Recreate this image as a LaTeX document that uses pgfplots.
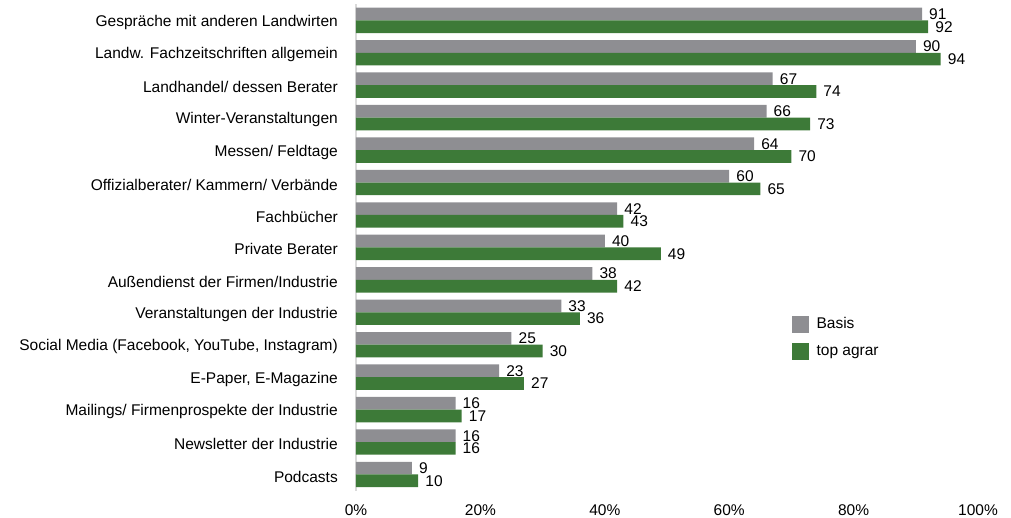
\documentclass[border=0pt]{standalone}
\usepackage{pgfplots}
\pgfplotsset{compat=1.18}
\usepackage{fontspec}
\setmainfont{Liberation Sans}
\definecolor{basis}{RGB}{142,142,146}
\definecolor{topagrar}{RGB}{61,122,56}
\definecolor{axgray}{RGB}{218,218,218}
\newcommand{\cfont}{\fontsize{15.5}{18}\selectfont}
\begin{document}
\cfont
\begin{tikzpicture}
\begin{axis}[
  scale only axis, width=622pt, height=486.6pt,
  xbar, bar width=12.7pt,
  xmin=0, xmax=100, ymin=-0.5, ymax=14.5,
  axis y line*=left, axis x line*=bottom,
  x axis line style={draw=none},
  y axis line style={draw=axgray, line width=1.5pt, -},
  major tick length=0pt,
  tick style={draw=none},
  /pgf/number format/assume math mode=true,
  xtick={0,20,40,60,80,100},
  xticklabels={0\%,20\%,40\%,60\%,80\%,100\%},
  xticklabel style={font=\cfont, inner sep=0pt, anchor=north, yshift=-14pt},
  ytick={0,...,14},
  yticklabels={Podcasts,Newsletter der Industrie,Mailings/ Firmenprospekte der Industrie,{E-Paper, E-Magazine},{Social Media (Facebook, YouTube, Instagram)},Veranstaltungen der Industrie,Außendienst der Firmen/Industrie,Private Berater,Fachbücher,Offizialberater/ Kammern/ Verbände,Messen/ Feldtage,Winter-Veranstaltungen,Landhandel/ dessen Berater,Landw. Fachzeitschriften allgemein,Gespräche mit anderen Landwirten},
  yticklabel style={font=\cfont, inner sep=0pt, anchor=east, xshift=-18pt, yshift=-2pt},
  nodes near coords={\pgfmathprintnumber[assume math mode=true]{\pgfplotspointmeta}}, point meta=x,
  every node near coord/.append style={font=\cfont, inner sep=0pt, anchor=west, xshift=7pt, black},
  legend image code/.code={\path[#1] (0pt,-8.5pt) rectangle (17pt,8.5pt);},
  legend style={draw=none, fill=none, at={(axis description cs:0.70,0.36)}, anchor=north west,
    row sep=10pt, inner sep=0pt, font=\cfont, nodes={inner sep=0pt}},
  legend cell align=left,
]
\addplot[fill=basis, draw=none, bar shift=6.35pt] coordinates {
(9,0) (16,1) (16,2) (23,3) (25,4) (33,5) (38,6) (40,7) (42,8) (60,9) (64,10) (66,11) (67,12) (90,13) (91,14)};
\addplot[fill=topagrar, draw=none, bar shift=-6.35pt] coordinates {
(10,0) (16,1) (17,2) (27,3) (30,4) (36,5) (42,6) (49,7) (43,8) (65,9) (70,10) (73,11) (74,12) (94,13) (92,14)};
\legend{\hspace{8pt}Basis,\hspace{8pt}top agrar}
\coordinate (LL) at (axis description cs:0,0);
\end{axis}
\pgfresetboundingbox
\useasboundingbox (LL) ++(-356pt,-26.3pt) rectangle ++(1011pt,517pt);
\end{tikzpicture}
\end{document}
